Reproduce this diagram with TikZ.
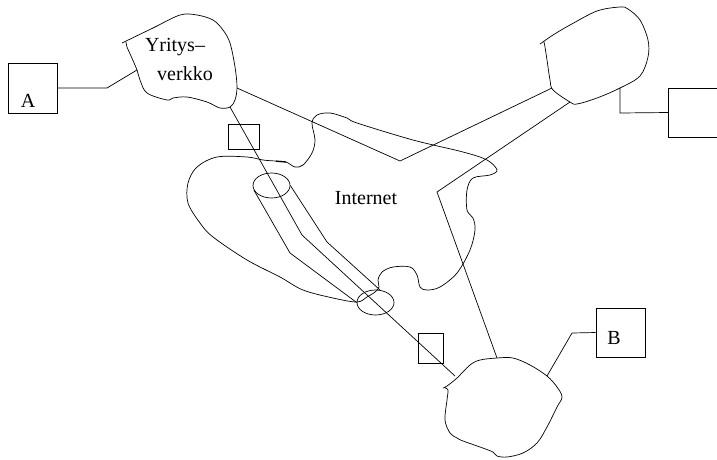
\documentclass[tikz,border=0pt]{standalone}
\usepackage{fontspec}
\setmainfont{Liberation Serif}
\usetikzlibrary{shapes.geometric}
\begin{document}
\begin{tikzpicture}[x=1pt,y=-1pt,
  line width=0.7pt,
  every node/.style={font=\fontsize{20}{23}\selectfont},
  host/.style={draw, minimum width=49pt, minimum height=49pt, inner sep=0pt},
  gate/.style={draw, inner sep=0pt},
  tube/.style={draw, ellipse, minimum width=37pt, minimum height=25pt, inner sep=0pt},
  cloud/.style={smooth, tension=0.55},
  link/.style={line join=miter}]
\useasboundingbox (0,0) rectangle (717,459);
\clip (0,0) rectangle (717,459);

% ---- clouds ----
% company network
\draw plot[cloud] coordinates {(122,43) (153,28) (180,15) (197,15) (213,20) (223,30) (230,43)
  (235,67) (237,87) (235,100) (230,107) (220,108) (207,102) (187,97) (173,98) (167,100)
  (147,93) (140,80) (137,70) (131,56) (127,47) (126,42)};
\node (yt1) at (175,47) {Yritys\textendash};
\node (yt2) at (185,74) {verkko};

% remote network (upper right)
\draw plot[cloud] coordinates {(540,44) (553,35) (570,25) (597,11) (620,7) (628,9) (640,20)
  (648,40) (648,57) (640,76) (620,88) (597,98) (577,104) (570,102) (553,90) (550,80)
  (547,60) (545,47) (544,42)};

% remote network (lower right)
\draw plot[cloud] coordinates {(443,388) (447,386) (457,378) (470,365) (480,360) (497,358)
  (513,358) (530,365) (547,376) (557,387) (562,397) (557,407) (547,427) (537,443) (523,453)
  (507,457) (497,456) (493,452) (480,447) (463,441) (457,438) (450,433) (445,420) (447,400)
  (448,390) (445,388)};

% Internet
\draw plot[smooth cycle, tension=0.55] coordinates {(286,162) (295,167) (303,165) (312,153)
  (315,140) (312,123) (317,115) (330,113) (347,118) (357,123) (413,140) (463,152) (487,160)
  (497,170) (490,175) (473,178) (467,190) (467,210) (473,218) (475,230) (470,250) (457,273)
  (440,287) (427,290) (420,287) (417,275) (410,267) (393,267) (382,272) (378,280) (379,287)
  (375,292) (367,297) (357,302) (333,298) (303,290) (280,277) (247,260) (213,237) (200,223)
  (188,203) (188,183) (197,167) (217,157) (247,157) (263,160) (275,161)};
\draw[line width=1.3pt] (276,161.2) -- (286,162);
\node (inet) at (366,198) {Internet};

% ---- hosts and gateways ----
\node[host, minimum height=50pt] (A) at (32.5,88) {};
\node (Alabel) at (28,101) {A};
\node[host] (B) at (620.5,332.5) {};
\node (Blabel) at (614,338) {B};
\node[host, minimum width=62pt, anchor=west] (C) at (668,112.5) {};
\node[gate, minimum width=31pt, minimum height=25pt] (g1) at (243.5,136.5) {};
\node[gate, minimum width=25pt, minimum height=30pt] (g2) at (430.5,348) {};

% ---- tunnel ----
\node[tube] (tt) at (271.5,185.5) {};
\node[tube] (tb) at (375.5,302.5) {};

% ---- attachment points ----
\coordinate (yA) at (137,70);
\coordinate (yE) at (237,88);
\coordinate (yS) at (230,107);
\coordinate (rW) at (552,88);
\coordinate (rS) at (570,102);
\coordinate (rE) at (620,88);
\coordinate (bNW) at (455,376);
\coordinate (bN) at (497,358);
\coordinate (bE) at (547,376);

\coordinate (kA) at (107,88);
\coordinate (k1) at (400,161);
\coordinate (k2) at (437,192);
\coordinate (k3) at (302,235);
\coordinate (kC) at (620,113);
\coordinate (kB) at (572,333);
\coordinate (tl) at (290,253);
\coordinate (tr) at (327,242);

% ---- connectors ----
\draw[link] (A.east) -- (kA) -- (yA);
\draw[link] (yE) -- (k1) -- (rW);
\draw[link] (rS) -- (k2) -- (bN);
\draw[link] (rE) -- (kC) -- (C.west);
\draw[link] (bE) -- (kB) -- (B.west);
\draw[link] (yS) -- (k3) -- (bNW);
\draw[link] (tt.195) -- (tl) -- (tb.west);
\draw[link] (tt.east) -- (tr) -- (tb.70);
\end{tikzpicture}
\end{document}
